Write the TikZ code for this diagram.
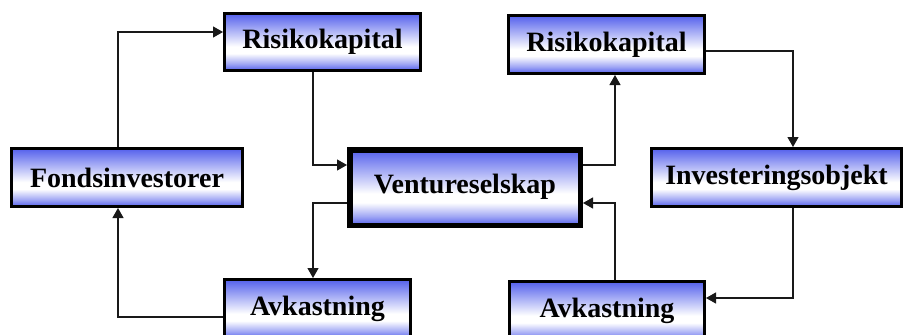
\documentclass[tikz,border=0pt]{standalone}
\usepackage{fontspec}
\setmainfont{Liberation Serif}[BoldFont={Liberation Serif Bold}]
\usetikzlibrary{arrows.meta}
\definecolor{boxblue}{RGB}{84,96,236}
\definecolor{linegray}{RGB}{25,25,25}
% blue at top and bottom edge, white band a little below the middle
\pgfdeclareverticalshading{boxshade}{100bp}{%
  color(0bp)=(boxblue); color(25bp)=(boxblue);
  color(31bp)=(boxblue!55!white); color(40bp)=(white);
  color(46bp)=(white); color(75bp)=(boxblue); color(100bp)=(boxblue)}
\tikzset{
  flowbox/.style={draw=black, line width=3pt, shading=boxshade,
    inner sep=0pt, align=center,
    font=\fontsize{28}{30}\selectfont\bfseries},
  mainbox/.style={flowbox, line width=5.5pt},
  conn/.style={draw=linegray, line width=1.2pt,
    -{Triangle[length=10pt,width=11pt]}}
}
\begin{document}
\begin{tikzpicture}[x=1pt,y=-1pt]
\clip (0,0) rectangle (906,335);
\useasboundingbox (0,0) rectangle (906,335);
\fill[white] (0,0) rectangle (906,335);

% boxes
\node[flowbox, minimum width=196pt, minimum height=57pt] (rk1) at (322.5,42) {Risikokapital};
\node[flowbox, minimum width=231pt, minimum height=58pt] (fi) at (127,177.5) {Fondsinvestorer};
\node[mainbox, minimum width=230.5pt, minimum height=75.5pt] (vs) at (465,187.5) {\raisebox{7pt}{Ventureselskap}};
\node[flowbox, minimum width=186pt, minimum height=59pt] (av1) at (317.5,309) {Avkastning};
\node[flowbox, minimum width=196pt, minimum height=58pt] (rk2) at (606.5,44.5) {Risikokapital};
\node[flowbox, minimum width=250pt, minimum height=58pt] (io) at (776.5,177.5) {Investeringsobjekt};
\node[flowbox, minimum width=195pt, minimum height=59pt] (av2) at (607,311) {Avkastning};

% connectors, left loop
\draw[conn] ([xshift=-9pt]fi.north) |- ([yshift=10pt]rk1.west);
\draw[conn] ([xshift=-9.5pt]rk1.south) |- ([yshift=22.5pt]vs.west);
\draw[conn] ([yshift=-15.5pt]vs.west) -| ([xshift=-4.5pt]av1.north);
\draw[conn] ([yshift=-8pt]av1.west) -| ([xshift=-9pt]fi.south);

% connectors, right loop
\draw[conn] ([yshift=22.5pt]vs.east) -| ([xshift=8.5pt]rk2.south);
\draw[conn] ([yshift=-6.5pt]rk2.east) -| ([xshift=16.5pt]io.north);
\draw[conn] ([xshift=16.5pt]io.south) |- ([yshift=13pt]av2.east);
\draw[conn] ([xshift=8pt]av2.north) |- ([yshift=-15.5pt]vs.east);
\end{tikzpicture}
\end{document}
